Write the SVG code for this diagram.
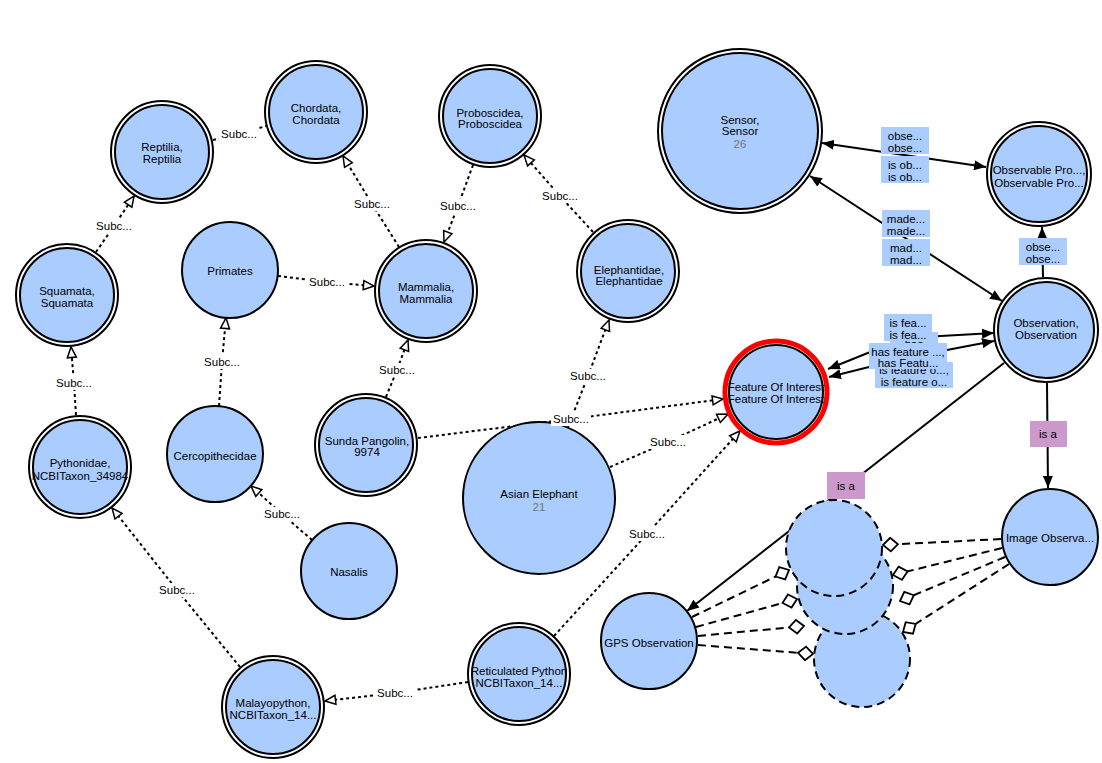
<svg xmlns="http://www.w3.org/2000/svg" width="1102" height="763" viewBox="0 0 1102 763">
<style>
text{font-family:"Liberation Sans",Arial,sans-serif;font-size:11.5px;text-anchor:middle;fill:#000}
.num{fill:#777}
.ring{fill:#fff;stroke:#000;stroke-width:2}
.fill{fill:#aaccff;stroke:#000;stroke-width:2}
.dc{fill:#aaccff;stroke:#000;stroke-width:2;stroke-dasharray:8 5}
.sub{fill:none;stroke:#000;stroke-width:2;stroke-dasharray:3 3}
.sol{fill:none;stroke:#000;stroke-width:2}
.dsh{fill:none;stroke:#000;stroke-width:2;stroke-dasharray:8 5}
.lb{fill:#fff}
.pb{fill:#aaccff}
.ia{fill:#cc99cc}
</style>
<defs>
<marker id="tri" viewBox="0 0 14 12" markerWidth="14" markerHeight="12" refX="12" refY="6" orient="auto" markerUnits="userSpaceOnUse"><path d="M1.5,1.5 L12,6 L1.5,10.5 Z" fill="#fff" stroke="#000" stroke-width="1.5"/></marker>
<marker id="arr" viewBox="0 0 12 10" markerWidth="12" markerHeight="10" refX="12" refY="5" orient="auto-start-reverse" markerUnits="userSpaceOnUse"><path d="M0,0 L12,5 L0,10 Z" fill="#000"/></marker>
<marker id="dia" viewBox="0 0 18 16" markerWidth="18" markerHeight="16" refX="16.5" refY="8" orient="auto" markerUnits="userSpaceOnUse"><path d="M1.5,8 L9,1.2 L16.5,8 L9,14.8 Z" fill="#fff" stroke="#000" stroke-width="1.8"/></marker>
</defs>
<rect width="1102" height="763" fill="#fff"/>
<g id="connectors">
<path class="sub" d="M213,140 L239,134 L266,126"/>
<path class="sub" d="M96,252 L114,226 L134,196" marker-end="url(#tri)"/>
<path class="sub" d="M76,415 L74,383 L71,347" marker-end="url(#tri)"/>
<path class="sub" d="M240,667 L177,590 L112,508" marker-end="url(#tri)"/>
<path class="sub" d="M219,406 L222,362 L226,318" marker-end="url(#tri)"/>
<path class="sub" d="M278,276 L327,282 L374,286" marker-end="url(#tri)"/>
<path class="sub" d="M312,540 L282,514 L251,486" marker-end="url(#tri)"/>
<path class="sub" d="M399,247 L372,204 L343,156" marker-end="url(#tri)"/>
<path class="sub" d="M473,165 L458,206 L444,242" marker-end="url(#tri)"/>
<path class="sub" d="M593,232 L560,196 L524,155" marker-end="url(#tri)"/>
<path class="sub" d="M386,397 L397,370 L408,340" marker-end="url(#tri)"/>
<path class="sub" d="M568,427 L588,376 L609,320" marker-end="url(#tri)"/>
<path class="sub" d="M418,438 L571,419 L723,399" marker-end="url(#tri)"/>
<path class="sub" d="M610,467 L668,442 L728,414" marker-end="url(#tri)"/>
<path class="sub" d="M554,636 L647,534 L740,431" marker-end="url(#tri)"/>
<path class="sub" d="M468,682 L395,693 L325,701" marker-end="url(#tri)"/>
<path class="sol" d="M822,143 L986,167" marker-start="url(#arr)" marker-end="url(#arr)"/>
<path class="sol" d="M1002,301 L810,176" marker-start="url(#arr)" marker-end="url(#arr)"/>
<path class="sol" d="M1043,277 L1042,227" marker-end="url(#arr)"/>
<path class="sol" d="M828,369 L905,338 L994,333" marker-start="url(#arr)" marker-end="url(#arr)"/>
<path class="sol" d="M829,377 L905,358 L994,341" marker-start="url(#arr)" marker-end="url(#arr)"/>
<path class="sol" d="M1047,383 L1048,488" marker-end="url(#arr)"/>
<path class="sol" d="M1004,363 L687,611" marker-end="url(#arr)"/>
<path class="dsh" d="M1001,539 L883,545" marker-end="url(#dia)"/>
<path class="dsh" d="M1002,548 L893,575" marker-end="url(#dia)"/>
<path class="dsh" d="M1005,557 L900,601" marker-end="url(#dia)"/>
<path class="dsh" d="M1009,564 L903,632" marker-end="url(#dia)"/>
<path class="dsh" d="M692,617 L789,570" marker-end="url(#dia)"/>
<path class="dsh" d="M696,627 L797,599" marker-end="url(#dia)"/>
<path class="dsh" d="M698,636 L804,626" marker-end="url(#dia)"/>
<path class="dsh" d="M698,645 L813,654" marker-end="url(#dia)"/>
</g>
<g id="nodes">
<g id="n-chordata"><circle class="ring" cx="316" cy="112" r="51"/><circle class="fill" cx="316" cy="112" r="47"/><text x="316" y="112">Chordata,</text><text x="316" y="124">Chordata</text></g>
<g id="n-reptilia"><circle class="ring" cx="162" cy="152" r="51"/><circle class="fill" cx="162" cy="152" r="47"/><text x="162" y="151">Reptilia,</text><text x="162" y="163">Reptilia</text></g>
<g id="n-squamata"><circle class="ring" cx="67" cy="295" r="51"/><circle class="fill" cx="67" cy="295" r="47"/><text x="67" y="295">Squamata,</text><text x="67" y="307">Squamata</text></g>
<g id="n-pythonidae"><circle class="ring" cx="80" cy="467" r="51"/><circle class="fill" cx="80" cy="467" r="47"/><text x="80" y="467">Pythonidae,</text><text x="80" y="480">NCBITaxon_34984</text></g>
<g id="n-malayopython"><circle class="ring" cx="273" cy="707" r="51"/><circle class="fill" cx="273" cy="707" r="47"/><text x="273" y="707">Malayopython,</text><text x="273" y="719">NCBITaxon_14...</text></g>
<g id="n-reticulated"><circle class="ring" cx="519" cy="674" r="51"/><circle class="fill" cx="519" cy="674" r="47"/><text x="519" y="675">Reticulated Python</text><text x="519" y="687">NCBITaxon_14...</text></g>
<g id="n-primates"><circle class="fill" cx="230" cy="270" r="48"/><text x="230" y="275">Primates</text></g>
<g id="n-cercopithecidae"><circle class="fill" cx="215" cy="454" r="48"/><text x="215" y="460">Cercopithecidae</text></g>
<g id="n-nasalis"><circle class="fill" cx="349" cy="571" r="48"/><text x="349" y="576">Nasalis</text></g>
<g id="n-mammalia"><circle class="ring" cx="426" cy="291" r="51"/><circle class="fill" cx="426" cy="291" r="47"/><text x="426" y="291">Mammalia,</text><text x="426" y="303">Mammalia</text></g>
<g id="n-sunda"><circle class="ring" cx="366" cy="445" r="51"/><circle class="fill" cx="366" cy="445" r="47"/><text x="367" y="445">Sunda Pangolin,</text><text x="367" y="456">9974</text></g>
<g id="n-proboscidea"><circle class="ring" cx="490" cy="116" r="51"/><circle class="fill" cx="490" cy="116" r="47"/><text x="490" y="117">Proboscidea,</text><text x="490" y="128">Proboscidea</text></g>
<g id="n-elephantidae"><circle class="ring" cx="628" cy="271" r="51"/><circle class="fill" cx="628" cy="271" r="47"/><text x="629" y="274">Elephantidae,</text><text x="629" y="285">Elephantidae</text></g>
<g id="n-asian-elephant"><circle class="fill" cx="539" cy="498" r="76"/><text x="539" y="498">Asian Elephant</text><text class="num" x="539" y="511">21</text></g>
<g id="n-foi"><circle cx="776" cy="392" r="51" fill="#fff" stroke="#ff0000" stroke-width="5"/><circle class="fill" cx="776" cy="392" r="47"/><text x="776" y="391">Feature Of Interest</text><text x="776" y="403">Feature Of Interest</text></g>
<g id="n-sensor"><circle class="ring" cx="740" cy="131" r="82"/><circle class="fill" cx="740" cy="131" r="78"/><text x="740" y="124">Sensor,</text><text x="740" y="135">Sensor</text><text class="num" x="740" y="148">26</text></g>
<g id="n-observable"><circle class="ring" cx="1039" cy="174" r="52"/><circle class="fill" cx="1039" cy="174" r="48"/><text x="1039" y="174">Observable Pro...,</text><text x="1039" y="187">Observable Pro...</text></g>
<g id="n-observation"><circle class="ring" cx="1046" cy="330" r="52"/><circle class="fill" cx="1046" cy="330" r="48"/><text x="1046" y="327">Observation,</text><text x="1046" y="339">Observation</text></g>
<g id="n-image-observation"><circle class="fill" cx="1050" cy="537" r="48"/><text x="1050" y="542">Image Observa...</text></g>
<g id="n-gps-observation"><circle class="fill" cx="649" cy="641" r="48"/><text x="649" y="647">GPS Observation</text></g>
<g id="n-anon3"><circle class="dc" cx="862" cy="659" r="48"/></g>
<g id="n-anon2"><circle class="dc" cx="845" cy="586" r="48"/></g>
<g id="n-anon1"><circle class="dc" cx="834" cy="548" r="48"/></g>
</g>
<g id="edge-labels">
<rect class="lb" x="219" y="127" width="40" height="14"/><text x="239" y="138">Subc...</text>
<rect class="lb" x="94" y="219" width="40" height="14"/><text x="114" y="230">Subc...</text>
<rect class="lb" x="54" y="376" width="40" height="14"/><text x="74" y="387">Subc...</text>
<rect class="lb" x="157" y="583" width="40" height="14"/><text x="177" y="594">Subc...</text>
<rect class="lb" x="202" y="355" width="40" height="14"/><text x="222" y="366">Subc...</text>
<rect class="lb" x="307" y="275" width="40" height="14"/><text x="327" y="286">Subc...</text>
<rect class="lb" x="262" y="507" width="40" height="14"/><text x="282" y="518">Subc...</text>
<rect class="lb" x="352" y="197" width="40" height="14"/><text x="372" y="208">Subc...</text>
<rect class="lb" x="438" y="199" width="40" height="14"/><text x="458" y="210">Subc...</text>
<rect class="lb" x="540" y="189" width="40" height="14"/><text x="560" y="200">Subc...</text>
<rect class="lb" x="377" y="363" width="40" height="14"/><text x="397" y="374">Subc...</text>
<rect class="lb" x="568" y="369" width="40" height="14"/><text x="588" y="380">Subc...</text>
<rect class="lb" x="551" y="412" width="40" height="14"/><text x="571" y="423">Subc...</text>
<rect class="lb" x="648" y="435" width="40" height="14"/><text x="668" y="446">Subc...</text>
<rect class="lb" x="627" y="527" width="40" height="14"/><text x="647" y="538">Subc...</text>
<rect class="lb" x="375" y="686" width="40" height="14"/><text x="395" y="697">Subc...</text>
<rect class="pb" x="881" y="127" width="48" height="27"/><text x="905" y="140">obse...</text><text x="905" y="152">obse...</text>
<rect class="pb" x="881" y="156" width="48" height="27"/><text x="905" y="169">is ob...</text><text x="905" y="181">is ob...</text>
<rect class="pb" x="882" y="210" width="48" height="27"/><text x="906" y="223">made...</text><text x="906" y="235">made...</text>
<rect class="pb" x="882" y="239" width="48" height="27"/><text x="906" y="252">mad...</text><text x="906" y="264">mad...</text>
<rect class="pb" x="1019" y="238" width="48" height="27"/><text x="1043" y="251">obse...</text><text x="1043" y="263">obse...</text>
<rect class="pb" x="890" y="332" width="48" height="26"/><text x="914" y="348">has</text>
<rect class="pb" x="884" y="314" width="48" height="27"/><text x="908" y="327">is fea...</text><text x="908" y="339">is fea...</text>
<rect class="pb" x="875" y="362" width="78" height="26"/><text x="914" y="374">is feature o...,</text><text x="914" y="386">is feature o...</text>
<rect class="pb" x="869" y="343" width="78" height="26"/><text x="908" y="356">has feature ...,</text><text x="908" y="367">has Featu...</text>
<rect class="ia" x="1030" y="421" width="37" height="26"/><text x="1048" y="438">is a</text>
<rect class="ia" x="827" y="472" width="38" height="27"/><text x="846" y="490">is a</text>
</g>
</svg>
